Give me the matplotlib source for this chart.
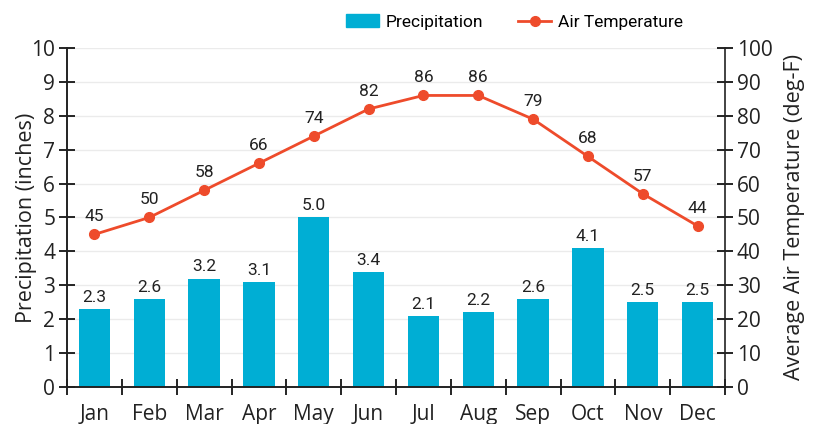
import numpy as np
import matplotlib.pyplot as plt
from matplotlib.lines import Line2D
from matplotlib.patches import Patch

months = ["Jan", "Feb", "Mar", "Apr", "May", "Jun", "Jul", "Aug", "Sep", "Oct", "Nov", "Dec"]
precip = [2.3, 2.6, 3.2, 3.1, 5.0, 3.4, 2.1, 2.2, 2.6, 4.1, 2.5, 2.5]
temps = [45, 50, 58, 66, 74, 82, 86, 86, 79, 68, 57, 47.5]
temp_labels = ["45", "50", "58", "66", "74", "82", "86", "86", "79", "68", "57", "44"]

bar_col = "#00AED4"
line_col = "#EE4B2B"
tick_font = ["Open Sans", "DejaVu Sans"]
lab_font = ["Roboto", "DejaVu Sans"]

fig = plt.figure(figsize=(8.14, 4.24), dpi=100)
ax = fig.add_axes([0.0823, 0.0873, 0.8084, 0.7995])
ax2 = ax.twinx()

x = np.arange(len(months))
ax.bar(x, precip, width=0.57, color=bar_col, zorder=2)
for xi, v in zip(x, precip):
    ax.text(xi, v + 0.12, f"{v:.1f}", ha="center", va="bottom", fontsize=12.5,
            family=lab_font, color="#222222")

ax2.plot(x, temps, color=line_col, lw=2, marker="o", ms=7, zorder=3)
for xi, v, s in zip(x, temps, temp_labels):
    ax2.text(xi, v + 3, s, ha="center", va="bottom", fontsize=12.5,
             family=lab_font, color="#222222")

ax.set_xlim(-0.5, 11.5)
ax.set_ylim(0, 10)
ax2.set_ylim(0, 100)
ax.set_yticks(range(0, 11))
ax2.set_yticks(range(0, 101, 10))
ax.set_xticks(x)
ax.set_xticklabels(months)
ax.set_xticks(np.arange(-0.5, 12, 1), minor=True)
ax.tick_params(axis="x", which="major", length=0, pad=12, labelsize=15)
ax.tick_params(axis="x", which="minor", direction="inout", length=11, width=1.2)
ax.tick_params(axis="y", direction="inout", length=11, width=1.2, labelsize=15, pad=3)
ax2.tick_params(axis="y", direction="inout", length=11, width=1.2, labelsize=15, pad=3)
for lbl in ax.get_xticklabels() + ax.get_yticklabels() + ax2.get_yticklabels():
    lbl.set_family(tick_font)
    lbl.set_color("#222222")

ax.yaxis.grid(True, color="#ebebeb", lw=1, zorder=0)
ax.set_axisbelow(True)
for a in (ax, ax2):
    a.spines["top"].set_visible(False)
    for s in ("left", "right", "bottom"):
        a.spines[s].set_linewidth(1.2)
        a.spines[s].set_color("#222222")
ax.spines["right"].set_visible(False)

ax.set_ylabel("Precipitation (inches)", fontsize=15.5, family=tick_font, color="#222222", labelpad=-4)
ax2.set_ylabel("Average Air Temperature (deg-F)", fontsize=15.5, family=tick_font, color="#222222", labelpad=8)

handles = [Patch(color=bar_col), Line2D([], [], color=line_col, lw=2, marker="o", ms=7)]
fig.legend(handles, ["Precipitation", "Air Temperature"], loc="center", bbox_to_anchor=(0.632, 0.948),
           ncol=2, frameon=False, prop={"family": lab_font, "size": 12.5}, handlelength=1.9,
           columnspacing=2.0, handletextpad=0.4)

fig.savefig("out.png", dpi=100)
